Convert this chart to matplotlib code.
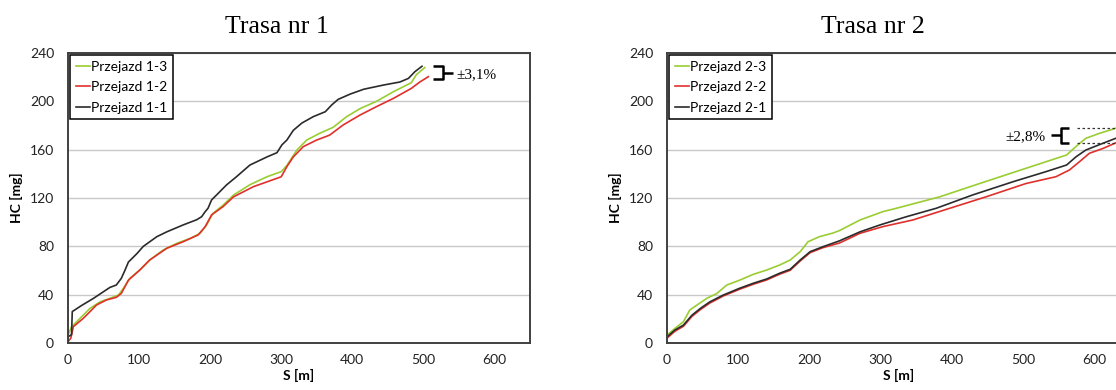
import matplotlib
matplotlib.use("Agg")
import matplotlib.pyplot as plt

# Trasa nr 1 - cumulative HC emission vs distance
s_1_1 = [0, 5, 6, 19, 36, 50, 59, 68, 75, 80, 85, 97, 106, 125, 139, 162, 181, 188, 193, 197,
         202, 209, 223, 237, 256, 280, 294, 301, 308, 317, 329, 345, 362, 371, 380, 397, 416,
         444, 467, 479, 488, 498]
hc_1_1 = [5, 7, 26, 31, 37, 42.5, 46, 48, 53.5, 60, 67, 74, 80, 88, 92, 97.7, 102, 104.5, 108.7,
          111.5, 118.4, 122.5, 130.8, 137.6, 147.3, 154, 157.5, 164, 168, 176, 182, 187.3, 191.4,
          197, 201.6, 206, 210, 213.5, 216, 219, 224.5, 229]
s_1_2 = [0, 4, 7.5, 21.5, 31, 40, 54, 68, 75, 85, 101, 115, 139, 162, 183, 193, 202, 218, 233,
         261, 294, 300, 308, 317, 331, 350, 368, 387, 411, 434, 458, 483, 495, 507]
hc_1_2 = [1, 4, 13.5, 20.4, 26, 31.4, 35.6, 37.8, 41, 52, 60.4, 68.7, 78.4, 83.8, 89.4, 96.3,
          106, 112.8, 121, 129.4, 136.3, 137.6, 146, 154, 162.5, 168, 172, 180.4, 188.7, 195.6,
          202.5, 210.7, 216, 220.4]
s_1_3 = [0, 5, 17, 31, 45, 59, 71, 78, 87, 101, 115, 134, 153, 172, 186, 195, 204, 218, 233,
         256, 280, 300, 308, 322, 336, 354, 373, 392, 411, 434, 458, 483, 490, 502]
hc_1_3 = [6.6, 13.5, 20.4, 28.7, 34, 37, 39.7, 45.3, 53.5, 60.4, 68.7, 77, 82.5, 86.6, 90.8,
          97.7, 107.3, 114, 122.5, 131, 137.6, 141.8, 147, 159.7, 168, 173.5, 178.5, 187.3, 194,
          200, 208, 215.4, 222, 228]

# Trasa nr 2
s_2_1 = [0, 11, 23, 35, 47, 60, 79, 102, 121, 140, 158, 173, 187, 201, 219, 242, 271, 299, 336,
         378, 429, 486, 532, 561, 574, 588, 612, 630, 650]
hc_2_1 = [5, 10.7, 14.8, 23, 28.7, 34, 39.7, 45.3, 49.4, 53, 57.7, 61, 68.7, 75.6, 79.7, 84.5,
          92, 97.7, 104.5, 111.5, 122.5, 133.5, 141.8, 147.3, 154, 159.7, 165.3, 169.4, 173]
s_2_2 = [0, 11, 23, 35, 47, 60, 79, 102, 121, 140, 158, 173, 187, 201, 219, 242, 271, 303, 345,
         397, 448, 504, 546, 565, 579, 593, 612, 630, 650]
hc_2_2 = [4, 9.7, 13.8, 22, 27.7, 33, 38.9, 44.5, 48.6, 52.2, 56.9, 60.2, 67.9, 74.8, 78.9, 82.7,
          90.8, 96.3, 101.8, 111.5, 121, 132, 137.6, 143.2, 150, 157, 161, 165.6, 169]
s_2_3 = [0, 11, 23, 32, 42, 56, 70, 84, 102, 121, 140, 158, 173, 187, 198, 214, 233, 242, 271,
         303, 322, 383, 439, 504, 561, 574, 588, 607, 630, 650]
hc_2_3 = [6.6, 12, 17.6, 27.3, 31.4, 37, 41, 48, 52, 56.8, 60.4, 64.5, 68.7, 75.6, 83.8, 88, 91,
          93, 101.8, 108.7, 111.5, 121, 132, 144.6, 155.6, 162.5, 169.4, 173.5, 177.7, 181]

GREEN = "#9acd32"
RED = "#e0302c"
BLACK = "#2b2b2b"
SPINE = "#404040"

plt.rcParams["font.family"] = ["Lato", "DejaVu Sans"]

fig = plt.figure(figsize=(11.16, 3.9), dpi=100)
ax1 = fig.add_axes([68 / 1116, 1 - 343 / 390, 462 / 1116, 290 / 390])
ax2 = fig.add_axes([667 / 1116, 1 - 343 / 390, 463 / 1116, 290 / 390])


def style_axes(ax):
    ax.set_xlim(0, 650)
    ax.set_ylim(0, 240)
    ax.set_xticks(range(0, 601, 100))
    ax.set_yticks(range(0, 241, 40))
    ax.grid(axis="y", color="#c8c8c8", linewidth=1.0)
    ax.set_axisbelow(True)
    for sp in ax.spines.values():
        sp.set_color(SPINE)
        sp.set_linewidth(1.4)
    ax.tick_params(length=0, labelsize=10, colors="#222222")
    ax.tick_params(axis="y", pad=10)
    ax.tick_params(axis="x", pad=8)
    ax.set_xlabel("S [m]", fontweight="bold", fontsize=10, labelpad=2)
    ax.set_ylabel("HC [mg]", fontweight="bold", fontsize=10, labelpad=5)


def draw_brace(ax, x_arm, x_bar, x_nub, y_top, y_bot):
    y_mid = (y_top + y_bot) / 2
    kw = dict(color="black", linewidth=1.8, clip_on=False, solid_capstyle="butt")
    ax.plot([x_arm, x_bar, x_bar, x_arm], [y_top, y_top, y_bot, y_bot], **kw)
    ax.plot([x_bar, x_nub], [y_mid, y_mid], **kw)


lw = 1.2
ax1.plot(s_1_3, hc_1_3, color=GREEN, lw=lw, label="Przejazd 1-3")
ax1.plot(s_1_2, hc_1_2, color=RED, lw=lw, label="Przejazd 1-2")
ax1.plot(s_1_1, hc_1_1, color=BLACK, lw=lw, label="Przejazd 1-1")

ax2.plot(s_2_3, hc_2_3, color=GREEN, lw=lw, label="Przejazd 2-3")
ax2.plot(s_2_2, hc_2_2, color=RED, lw=lw, label="Przejazd 2-2")
ax2.plot(s_2_1, hc_2_1, color=BLACK, lw=lw, label="Przejazd 2-1")

for ax in (ax1, ax2):
    style_axes(ax)
    leg = ax.legend(loc="upper left", fontsize=10, handlelength=1.0, handletextpad=0.1,
                    borderaxespad=0.15, borderpad=0.4, labelspacing=0.62,
                    fancybox=False, framealpha=1)
    leg.get_frame().set_edgecolor("black")
    leg.get_frame().set_linewidth(1.1)

# spread annotations
draw_brace(ax1, 514, 527, 541, 229, 218.2)
ax1.text(547, 222.4, "\u00b13,1%", family="Liberation Serif", fontsize=11, va="center", ha="left")

draw_brace(ax2, 565, 553, 539, 178, 165.5)
ax2.plot([575, 650], [178, 178], color="#333333", lw=0.9, ls=(0, (2, 2)), clip_on=False)
ax2.plot([575, 650], [165.5, 165.5], color="#333333", lw=0.9, ls=(0, (2, 2)), clip_on=False)
ax2.text(532, 170.7, "\u00b12,8%", family="Liberation Serif", fontsize=11, va="center", ha="right")

fig.text(277 / 1116, 1 - 27 / 390, "Trasa nr 1", family="Liberation Serif", fontsize=18.5,
         ha="center", va="center")
fig.text(873 / 1116, 1 - 27 / 390, "Trasa nr 2", family="Liberation Serif", fontsize=18.5,
         ha="center", va="center")

fig.savefig("out.png", dpi=100)
